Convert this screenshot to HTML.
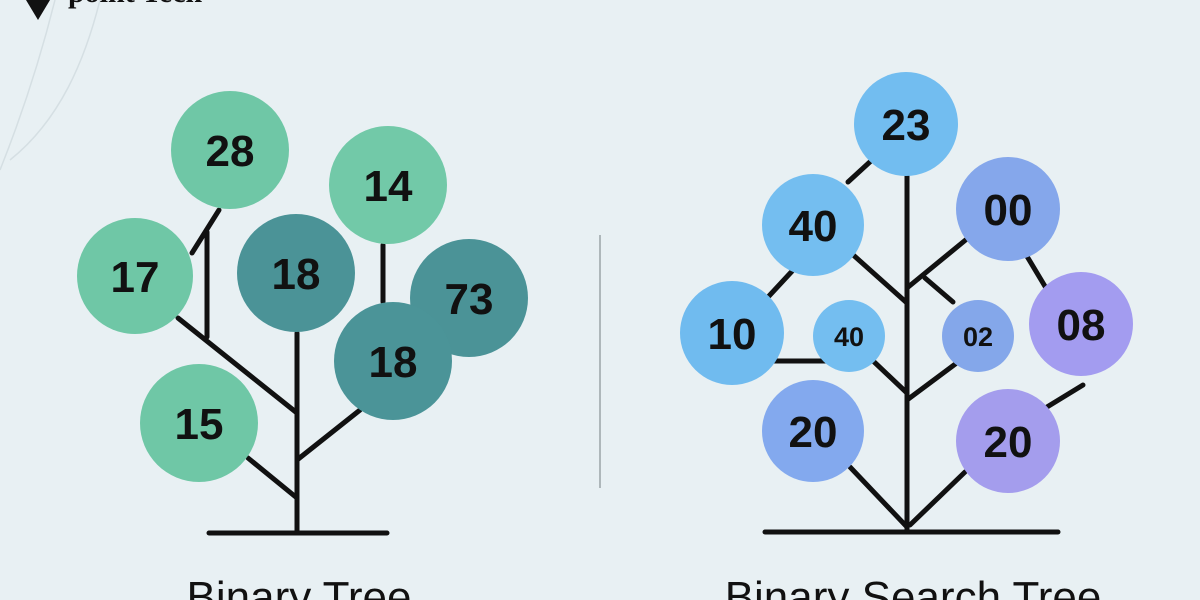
<!DOCTYPE html>
<html><head><meta charset="utf-8"><style>
html,body{margin:0;padding:0;background:#e8f0f3;}
svg{display:block}
text{font-family:"Liberation Sans","DejaVu Sans",sans-serif;}
text.logo{font-family:"Liberation Serif",serif;}
</style></head><body>
<svg width="1200" height="600" viewBox="0 0 1200 600" xmlns="http://www.w3.org/2000/svg">
<rect width="1200" height="600" fill="#e8f0f3"/>
<path d="M55,0 C40,60 20,120 0,170" stroke="#d5dfe3" stroke-width="1.5" fill="none"/>
<path d="M100,0 C85,60 60,120 10,160" stroke="#d5dfe3" stroke-width="1.5" fill="none"/>
<path d="M26,0 L50,0 L38,20 Z" fill="#111"/>
<text class="logo" x="68" y="2" font-weight="bold" font-size="30" fill="#111">point Tech</text>
<line x1="600" y1="235" x2="600" y2="488" stroke="#9aa4a8" stroke-width="1.5"/>
<g stroke="#111" stroke-width="5" stroke-linecap="round" fill="none">
<line x1="209" y1="533" x2="387" y2="533"/>
<line x1="297" y1="333" x2="297" y2="533"/>
<line x1="248" y1="458" x2="297" y2="498"/>
<line x1="360" y1="410" x2="297" y2="460"/>
<line x1="178" y1="318" x2="297" y2="413"/>
<line x1="207" y1="232" x2="207" y2="337"/>
<line x1="219" y1="210" x2="192" y2="253"/>
<line x1="383" y1="245" x2="383" y2="302"/>
<line x1="765" y1="532" x2="1058" y2="532"/>
<line x1="907" y1="176" x2="907" y2="532"/>
<line x1="872" y1="160" x2="848" y2="182"/>
<line x1="851" y1="253" x2="907" y2="303"/>
<line x1="968" y1="238" x2="907" y2="288"/>
<line x1="925" y1="278" x2="953" y2="302"/>
<line x1="769" y1="296" x2="795" y2="268"/>
<line x1="767" y1="361" x2="833" y2="361"/>
<line x1="870" y1="358" x2="907" y2="393"/>
<line x1="958" y1="362" x2="907" y2="400"/>
<line x1="1025" y1="253" x2="1046" y2="288"/>
<line x1="1083" y1="385" x2="1047" y2="407"/>
<line x1="850" y1="467" x2="907" y2="527"/>
<line x1="965" y1="472" x2="910" y2="525"/>
</g>
<g font-weight="bold" text-anchor="middle" fill="#111">
<circle cx="230" cy="150" r="59" fill="#6fc7a6"/><text x="230" y="166" font-size="44">28</text>
<circle cx="388" cy="185" r="59" fill="#72c9a8"/><text x="388" y="201" font-size="44">14</text>
<circle cx="135" cy="276" r="58" fill="#6fc7a6"/><text x="135" y="292" font-size="44">17</text>
<circle cx="296" cy="273" r="59" fill="#4b9397"/><text x="296" y="289" font-size="44">18</text>
<circle cx="469" cy="298" r="59" fill="#4b9397"/><text x="469" y="314" font-size="44">73</text>
<circle cx="393" cy="361" r="59" fill="#4b9498"/><text x="393" y="377" font-size="44">18</text>
<circle cx="199" cy="423" r="59" fill="#6fc7a6"/><text x="199" y="439" font-size="44">15</text>
<circle cx="906" cy="124" r="52" fill="#72bdf0"/><text x="906" y="140" font-size="44">23</text>
<circle cx="813" cy="225" r="51" fill="#74bef0"/><text x="813" y="241" font-size="44">40</text>
<circle cx="1008" cy="209" r="52" fill="#85a7eb"/><text x="1008" y="225" font-size="44">00</text>
<circle cx="732" cy="333" r="52" fill="#70bbef"/><text x="732" y="349" font-size="44">10</text>
<circle cx="849" cy="336" r="36" fill="#74bef0"/><text x="849" y="346" font-size="27">40</text>
<circle cx="978" cy="336" r="36" fill="#84a7ea"/><text x="978" y="346" font-size="27">02</text>
<circle cx="1081" cy="324" r="52" fill="#a39cf0"/><text x="1081" y="340" font-size="44">08</text>
<circle cx="813" cy="431" r="51" fill="#83a9ee"/><text x="813" y="447" font-size="44">20</text>
<circle cx="1008" cy="441" r="52" fill="#a49ded"/><text x="1008" y="457" font-size="44">20</text>
</g>
<g text-anchor="middle" fill="#111" font-size="44">
<text x="299" y="612">Binary Tree</text>
<text x="913" y="612">Binary Search Tree</text>
</g>
</svg>
</body></html>
